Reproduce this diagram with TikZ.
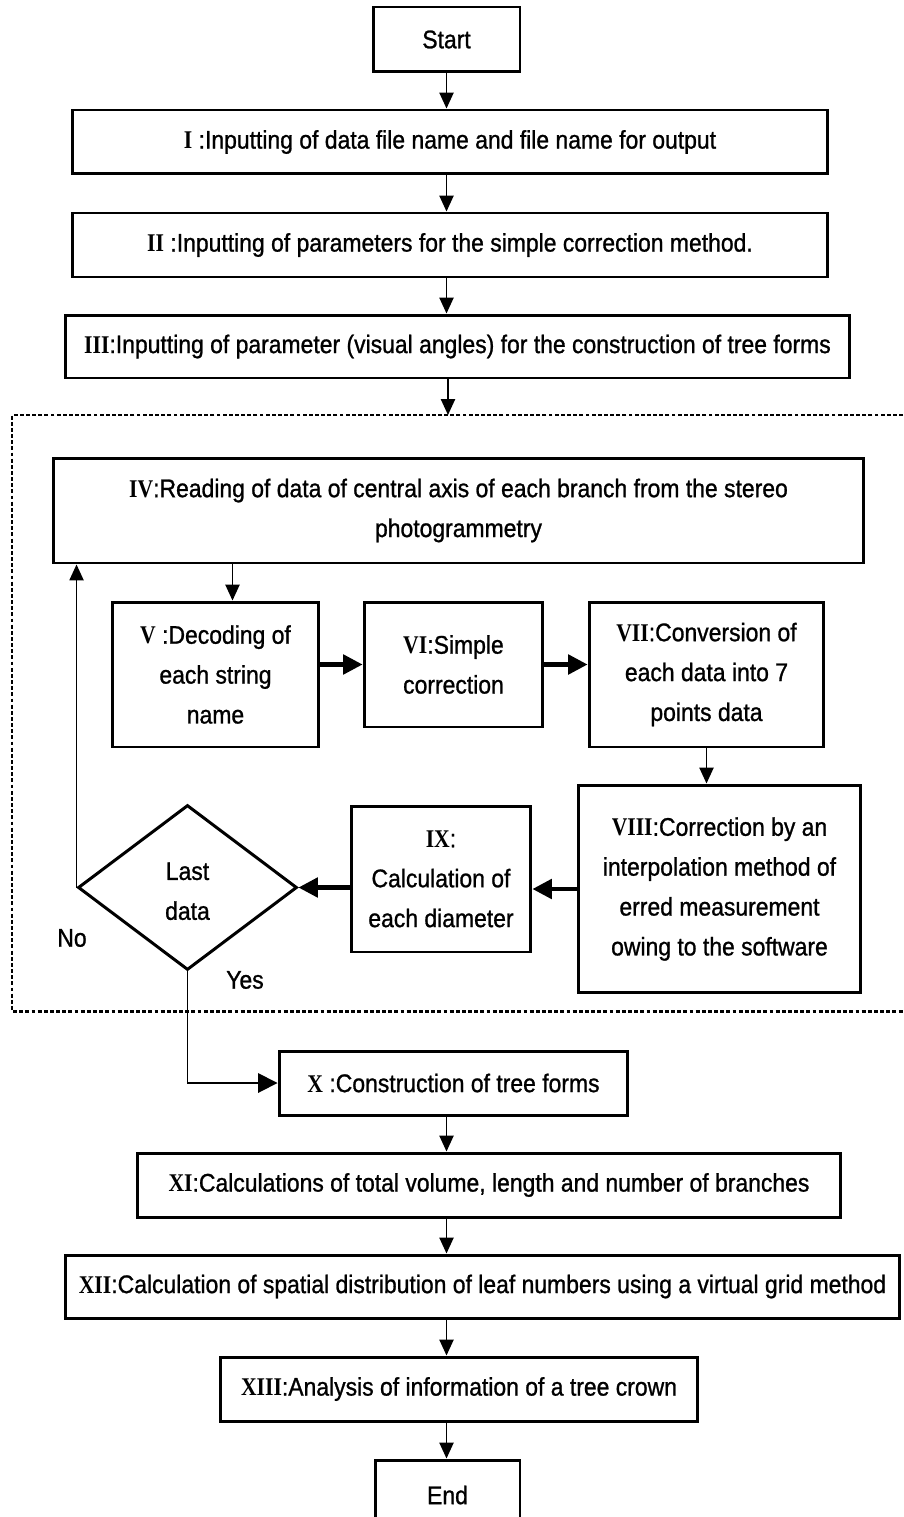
\documentclass[tikz,border=0pt]{standalone}
\usepackage{fontspec}
\setmainfont{Liberation Sans}[FakeStretch=0.9,FakeBold=1]
\newfontfamily\numfont{Liberation Serif}[FakeStretch=0.85]
\usetikzlibrary{shapes.geometric,arrows.meta,positioning}
\newcommand{\rn}[1]{{\numfont\bfseries #1}}

\begin{document}
\begin{tikzpicture}[x=0.02cm,y=-0.02cm,
    font=\fontsize{14.5}{22.7}\selectfont,
    box/.style={draw,line width=1.7pt,inner sep=2pt,align=center},
    decision/.style={diamond,draw,line width=1.7pt,inner sep=0pt,align=center},
    arr/.style={-{Triangle[width=8pt,length=9pt]},line width=1pt},
    bigarr/.style={-{Triangle[width=11pt,length=11pt]},line width=2.3pt},
    yesarr/.style={-{Triangle[width=11pt,length=11pt]},line width=1pt},
    frame/.style={line width=1.7pt,dash pattern=on 2.2pt off 1.3pt}]
    \useasboundingbox (0,0) rectangle (903,1517);

    \node[box,minimum width=2.94cm,minimum height=1.3cm] (start) at (446.5,39.5) {Start};
    \node[box,minimum width=15.12cm,minimum height=1.28cm] (s1) at (450,142)
        {\rn{I} :Inputting of data file name and file name for output};
    \node[box,minimum width=15.12cm,minimum height=1.28cm] (s2) at (450,245)
        {\rn{II} :Inputting of parameters for the simple correction method.};
    \node[box,minimum width=15.7cm,minimum height=1.26cm] (s3) at (457.5,346.5)
        {\rn{III}:Inputting of parameter (visual angles) for the construction of tree forms};

    % repeated part
    \draw[frame] (903,415) -| (12,1011) -- (903,1011);
    \coordinate (loopin) at (448,415);

    \node[box,minimum width=16.22cm,minimum height=2.1cm] (s4) at (458.5,510.5)
        {\rn{IV}:Reading of data of central axis of each branch from the stereo\\photogrammetry};
    \node[box,minimum width=4.14cm,minimum height=2.9cm] (s5) at (215.5,674.5)
        {\rn{V} :Decoding of\\each string\\name};
    \node[box,minimum width=3.58cm,minimum height=2.5cm] (s6) at (453.5,664.5)
        {\rn{VI}:Simple\\correction};
    \node[box,minimum width=4.7cm,minimum height=2.9cm] (s7) at (706.5,674.5)
        {\rn{VII}:Conversion of\\each data into 7\\points data};
    \node[box,minimum width=5.66cm,minimum height=4.16cm] (s8) at (719.5,889)
        {\rn{VIII}:Correction by an\\interpolation method of\\erred measurement\\owing to the software};
    \node[box,minimum width=3.6cm,minimum height=2.92cm] (s9) at (441,879)
        {\rn{IX}:\\Calculation of\\each diameter};
    \node[decision,minimum width=4.38cm,minimum height=3.3cm] (dec) at (187.5,887.5)
        {\\[-8.5pt]Last\\data};
    \node (no) at (72,938) {No};
    \node (yes) at (245,980) {Yes};

    \node[box,minimum width=6.98cm,minimum height=1.28cm] (s10) at (453.5,1083)
        {\rn{X} :Construction of tree forms};
    \node[box,minimum width=14.08cm,minimum height=1.28cm] (s11) at (489,1185)
        {\rn{XI}:Calculations of total volume, length and number of branches};
    \node[box,minimum width=16.7cm,minimum height=1.26cm] (s12) at (482.5,1286.5)
        {\rn{XII}:Calculation of spatial distribution of leaf numbers using a virtual grid method};
    \node[box,minimum width=9.56cm,minimum height=1.28cm] (s13) at (459,1389)
        {\rn{XIII}:Analysis of information of a tree crown};
    \node[box,minimum width=2.9cm,minimum height=1.4cm] (end) at (447.5,1495) {End};

    \draw[arr] (start) -- (start |- s1.north);
    \draw[arr] (s1.south -| start) -- (s2.north -| start);
    \draw[arr] (s2.south -| start) -- (s3.north -| start);
    \draw[arr] (s3.south -| loopin) -- (loopin);
    \draw[arr] ([xshift=0.34cm]s5.north |- s4.south) -- ([xshift=0.34cm]s5.north);
    \draw[bigarr] (s5.east |- s6) -- (s6.west);
    \draw[bigarr] (s6.east) -- (s7.west |- s6);
    \draw[arr] (s7.south) -- (s7.south |- s8.north);
    \draw[bigarr] (s8.west) -- (s9.east |- s8.west);
    \draw[bigarr] (s9.west |- dec) -- (dec.east);
    \draw[arr] (dec.west) -- (dec.west |- s4.south);
    \draw[yesarr] (dec.south) |- (s10.west);
    \draw[arr] (s10.south -| start) -- (s11.north -| start);
    \draw[arr] (s11.south -| start) -- (s12.north -| start);
    \draw[arr] (s12.south -| start) -- (s13.north -| start);
    \draw[arr] (s13.south -| start) -- (end.north -| start);
\end{tikzpicture}
\end{document}
